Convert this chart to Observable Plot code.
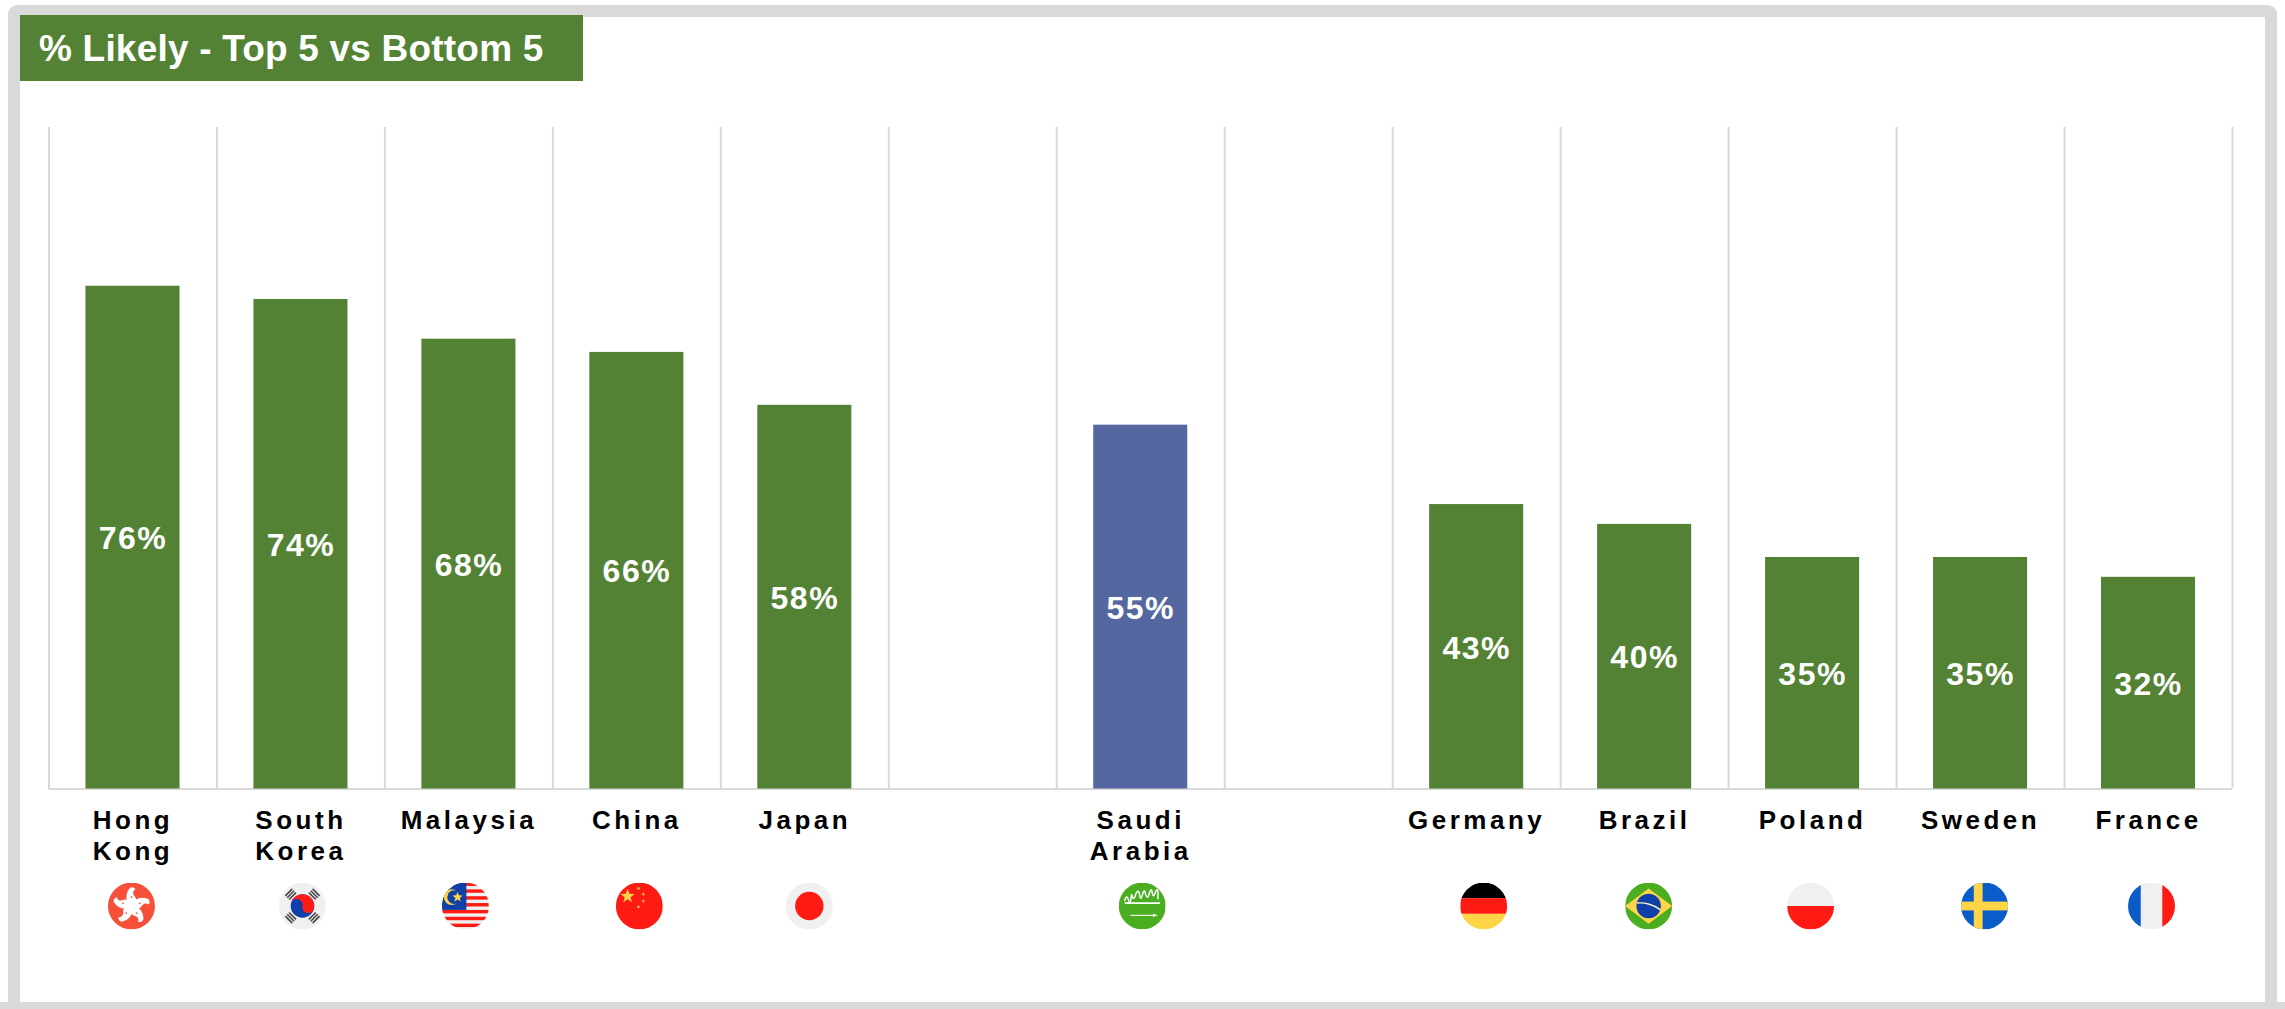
<!DOCTYPE html>
<html>
<head>
<meta charset="utf-8">
<script src="https://cdn.jsdelivr.net/npm/d3@7"></script>
<script src="https://cdn.jsdelivr.net/npm/@observablehq/plot@0.6"></script>
<style>
  html, body { margin: 0; padding: 0; background: #fff; overflow: hidden; }
  #page { position: relative; width: 2285px; height: 1009px; overflow: hidden; font-family: "Liberation Sans", Arial, sans-serif; }
  #frame { position: absolute; left: 8px; top: 5px; width: 2269px; height: 1020px; box-sizing: border-box;
           border: 12px solid #d9d9d9; border-radius: 9px; }
  #frame-base { position: absolute; left: 0; top: 1002px; width: 2285px; height: 7px; background: #d9d9d9; }
  #title { position: absolute; left: 20px; top: 15px; width: 563px; height: 66px; background: #548235; color: #fff;
           font-weight: 700; font-size: 37px; line-height: 68px; padding-left: 19px; box-sizing: border-box; letter-spacing: .2px; white-space: nowrap; }
  #chart { position: absolute; left: 0; top: 0; }
  #chart svg [aria-label="x-axis tick label"] { letter-spacing: 3.5px; }
  #chart svg [aria-label="text"] { letter-spacing: 1.5px; }
</style>
</head>
<body>
<div id="page">
  <div id="frame"></div>
  <div id="frame-base"></div>
  <div id="title">% Likely - Top 5 vs Bottom 5</div>
  <div id="chart"></div>
</div>
<script>
// Survey results: share of respondents who said "likely", by country.
const countries = ["Hong Kong", "South Korea", "Malaysia", "China", "Japan", "gapA", "Saudi Arabia", "gapB", "Germany", "Brazil", "Poland", "Sweden", "France"];
const likely = [76, 74, 68, 66, 58, null, 55, null, 43, 40, 35, 35, 32];
const tickLabels = ["Hong\nKong", "South\nKorea", "Malaysia", "China", "Japan", "", "Saudi\nArabia", "", "Germany", "Brazil", "Poland", "Sweden", "France"];
const groups = ["edge", "edge", "edge", "edge", "edge", null, "focus", null, "edge", "edge", "edge", "edge", "edge"];

const rows = countries.map((name, i) => ({name, value: likely[i], group: groups[i]})).filter(d => d.value != null);
const labelOf = new Map(countries.map((c, i) => [c, tickLabels[i]]));

// Round flag artwork, each on a 48-unit square.
const RED = "#ff1a14", WHITE = "#f0f0f0", BLUE = "#0a5cc8", NAVY = "#0f3fa8", YELLOW = "#ffd447", GREEN = "#4bad20";
const petal = a => `<path transform="rotate(${a} 24 24)" d="M24 25C18 20 17 12 22 6C24 4 27 5 28 7C25 9 25 12 28 15C30 19 27 23 24 25Z" fill="#fff"/><circle transform="rotate(${a} 24 24)" cx="24" cy="15" r=".9" fill="#f65038"/>`;
const trigram = (a) => `<g transform="rotate(${a} 24 24)" fill="#444"><rect x="19" y="3.5" width="10" height="1.6"/><rect x="19" y="6.2" width="10" height="1.6"/><rect x="19" y="8.9" width="10" height="1.6"/></g>`;
const star = (x, y, r, rot = 0) => {
  const pts = d3.range(10).map(i => {
    const t = (i * 36 + rot - 90) * Math.PI / 180, q = i % 2 ? r * 0.42 : r;
    return `${(x + q * Math.cos(t)).toFixed(2)},${(y + q * Math.sin(t)).toFixed(2)}`;
  }).join(" ");
  return `<polygon points="${pts}" fill="${YELLOW}"/>`;
};
const flagArt = {
  "Hong Kong": `<rect width="48" height="48" fill="#f65038"/>${[0, 72, 144, 216, 288].map(petal).join("")}`,
  "South Korea": `<rect width="48" height="48" fill="${WHITE}"/>${[-45, 45, 135, 225].map(trigram).join("")}
     <circle cx="24" cy="24" r="12" fill="${NAVY}"/><path d="M12 24a12 12 0 0 1 24 0a6 6 0 0 1-12 0a6 6 0 0 0-12 0Z" fill="${RED}" transform="rotate(12 24 24)"/>`,
  "Malaysia": `<rect width="48" height="48" fill="${WHITE}"/>${[0, 1, 2, 3, 4, 5, 6].map(i => `<rect y="${i * 7}" width="48" height="3.5" fill="${RED}"/>`).join("")}
     <rect width="25" height="28" fill="${NAVY}"/><circle cx="10" cy="15" r="8" fill="${YELLOW}"/><circle cx="12.500" cy="15" r="7" fill="${NAVY}"/>${star(16, 15, 5.5)}`,
  "China": `<rect width="48" height="48" fill="${RED}"/>${star(12, 14, 7.5)}${star(23, 6, 2)}${star(28, 12, 2)}${star(28, 19, 2)}${star(23, 25, 2)}`,
  "Japan": `<rect width="48" height="48" fill="${WHITE}"/><circle cx="24" cy="24" r="14.5" fill="${RED}"/>`,
  "Saudi Arabia": `<rect width="48" height="48" fill="${GREEN}"/><g fill="none" stroke="#fff" stroke-width="1.5"><path d="M6 19q2-8 4-1t3-6q2 8 4 1t4-2q1 9 3 2t3-3q2 9 4 2t3-3q1 8 3 2t3-2v8"/><path d="M6 21H42" stroke-width="1.7"/></g><g fill="#fff"><rect x="12" y="33" width="24" height="1.1"/><path d="M35 31.800l5 1.700l-5 1.700Z"/></g>`,
  "Germany": `<rect width="48" height="16" fill="#000"/><rect y="16" width="48" height="16" fill="${RED}"/><rect y="32" width="48" height="16" fill="${YELLOW}"/>`,
  "Brazil": `<rect width="48" height="48" fill="${GREEN}"/><polygon points="24,6 48,24 24,42 0,24" fill="${YELLOW}"/><circle cx="24" cy="24" r="12.5" fill="${NAVY}"/><path d="M12 21C20 20 30 23 36 28" stroke="#f0f0d0" stroke-width="1.5" fill="none"/>`,
  "Poland": `<rect width="48" height="24" fill="${WHITE}"/><rect y="24" width="48" height="24" fill="${RED}"/>`,
  "Sweden": `<rect width="48" height="48" fill="${BLUE}"/><rect x="13" width="9" height="48" fill="${YELLOW}"/><rect y="19.500" width="48" height="9" fill="${YELLOW}"/>`,
  "France": `<rect width="48" height="48" fill="${WHITE}"/><rect width="13" height="48" fill="${BLUE}"/><rect x="35" width="13" height="48" fill="${RED}"/>`
};
const flagUri = name => "data:image/svg+xml," + encodeURIComponent(`<svg xmlns="http://www.w3.org/2000/svg" viewBox="0 0 48 48" width="48" height="48">${flagArt[name]}</svg>`);

// Small horizontal nudges that set each flag off its category centre.
const flagNudge = {"Hong Kong": -1.5, "South Korea": 1.5, "Malaysia": -3.5, "China": 2.5, "Japan": 4.5, "Saudi Arabia": 1.5, "Germany": 7, "Brazil": 4, "Poland": -2, "Sweden": 4, "France": 3};

const W = 2285, H = 1009, mL = 48.5, mR = 53;
const step = (W - mL - mR) / countries.length;

const chart = Plot.plot({
  width: W,
  height: H,
  marginLeft: mL,
  marginRight: mR,
  marginTop: 127,
  marginBottom: 220.5,
  style: {background: "transparent", fontFamily: '"Liberation Sans", Arial, sans-serif', color: "#000"},
  x: {domain: countries, paddingInner: 0.44, paddingOuter: 0.22, round: false, label: null},
  y: {domain: [0, 100], label: null, axis: null},
  color: {domain: ["edge", "focus"], range: ["#548235", "#5567a0"]},
  marks: [
    // Vertical separators sit on the band edges.
    Plot.ruleX(countries, {x: d => d, dx: -step / 2, stroke: "#d9d9d9", strokeWidth: 2}),
    Plot.ruleX(countries.slice(-1), {x: d => d, dx: step / 2, stroke: "#d9d9d9", strokeWidth: 2}),
    Plot.ruleY([0], {stroke: "#d9d9d9", strokeWidth: 2}),
    Plot.barY(rows, {x: "name", y: "value", fill: "group"}),
    Plot.text(rows, {x: "name", y: d => d.value / 2, dy: 1.5, text: d => `${d.value}%`, fill: "#fff", fontSize: 32, fontWeight: 700}),
    Plot.axisX({anchor: "bottom", tickSize: 0, tickPadding: 17.5, fontSize: 26, fontWeight: 700, lineHeight: 1.2, lineAnchor: "top", tickFormat: d => labelOf.get(d), label: null, fill: "#000"}),
    ...rows.map(d => Plot.image([d], {x: "name", src: e => flagUri(e.name), r: 23.5, frameAnchor: "bottom", dx: flagNudge[d.name], dy: 117}))
  ]
});
document.getElementById("chart").appendChild(chart);
</script>
</body>
</html>
